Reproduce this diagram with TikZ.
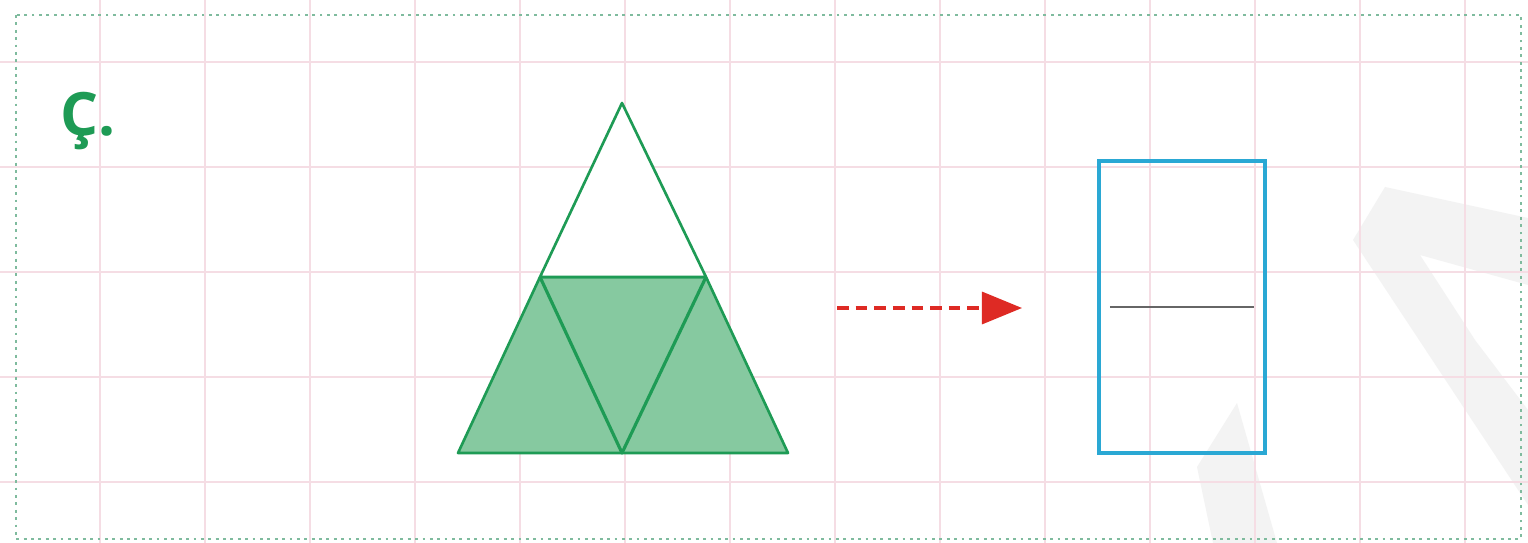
\documentclass[tikz,border=0pt]{standalone}
\usepackage{fontspec}
\newfontfamily\labelfont{Open Sans}
\usetikzlibrary{arrows.meta, positioning, calc}
\definecolor{gridpink}{HTML}{F5DDE4}
\definecolor{dotgreen}{HTML}{7FBB9E}
\definecolor{leafgreen}{HTML}{1E9B55}
\definecolor{fillgreen}{HTML}{86C9A0}
\definecolor{arrred}{HTML}{DE2A24}
\definecolor{boxblue}{HTML}{2AA8D4}
\definecolor{markgray}{HTML}{F3F3F3}

\begin{document}
\begin{tikzpicture}[
  x=0.01cm, y=-0.01cm,
  >={Triangle[length=0.4cm, width=0.32cm]},
  tri/.style={draw=leafgreen, line width=0.75pt, line join=round},
  gridline/.style={gridpink, line width=0.45pt},
]

% Background
\fill[white] (0,0) rectangle (1528,543);
\useasboundingbox (0,0) rectangle (1528,543);

% Watermark
\fill[markgray] (1385,187) -- (1528,218) -- (1528,285) -- (1420,255) -- (1475,340)
  -- (1528,410) -- (1528,505) -- (1353,240) -- cycle;
\fill[markgray] (1237,403) -- (1197,467) -- (1213,543) -- (1277,543) -- cycle;

% Grid
\foreach \gx in {100,205,...,1465}
  \draw[gridline] (\gx,0) -- (\gx,543);
\foreach \gy in {62,167,...,482}
  \draw[gridline] (0,\gy) -- (1528,\gy);

% Dotted frame
\draw[dotgreen, line width=0.7pt, dash pattern=on 0.8pt off 1.3pt] (16,15) rectangle (1521,539);

% Label
\node[anchor=base west, inner sep=0pt, text=leafgreen, font=\labelfont\bfseries\fontsize{17}{20}\selectfont]
  (lbl) at (60,136) {Ç.};

% === Triangle ===
\coordinate (apex) at (622,103);
\coordinate (ml) at (540,277);
\coordinate (mr) at (706,277);
\coordinate (bl) at (458,453);
\coordinate (bm) at (622,453);
\coordinate (br) at (788,453);

\filldraw[tri, fill=fillgreen] (ml) -- (mr) -- (br) -- (bl) -- cycle;
\draw[tri, fill=white] (apex) -- (ml) -- (mr) -- cycle;
\draw[tri, line width=0.9pt] (ml) -- (bm) -- (mr);

% Arrow
\coordinate (arrstart) at (837,308);
\coordinate (arrend) at (1022,308);
\draw[->, arrred, line width=0.9pt, dash pattern=on 3.3pt off 2pt] (arrstart) -- (arrend);

% === Answer box ===
\node[draw=boxblue, line width=1.2pt, minimum width=1.66cm, minimum height=2.92cm,
      inner sep=0pt] (ans) at (1182,307) {};
\draw[gray!80!black, line width=0.6pt] ($(ans.west)+(13,0)$) -- ($(ans.east)+(-13,0)$);

\end{tikzpicture}
\end{document}
